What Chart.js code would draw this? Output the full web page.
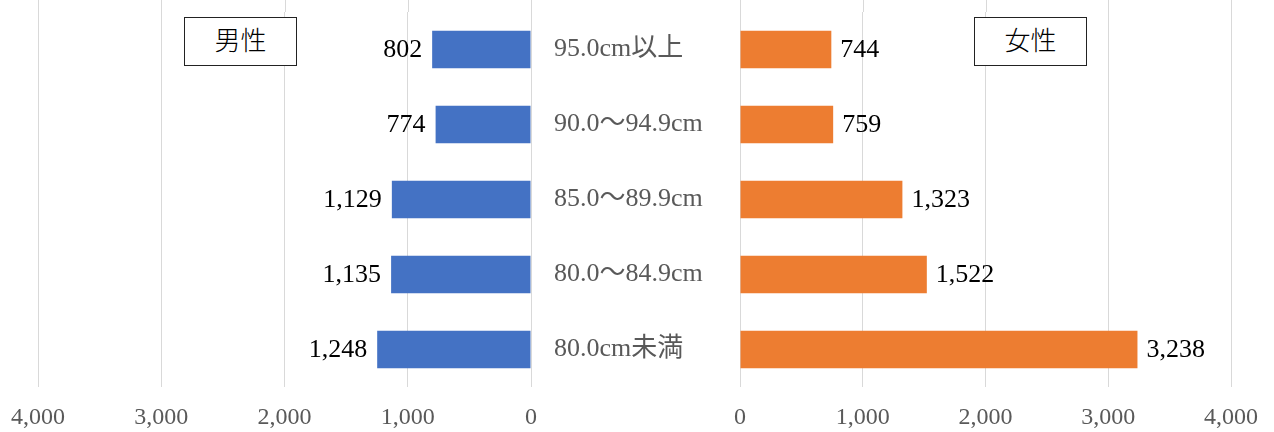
<!DOCTYPE html>
<html>
<head>
<meta charset="utf-8">
<script src="https://cdn.jsdelivr.net/npm/chart.js@4/dist/chart.umd.min.js"></script>
<style>
  body { margin: 0; background: #fff; }
  #wrap { position: relative; width: 1274px; height: 432px; overflow: hidden; }
  canvas { position: absolute; top: 0; }
  .label {
    position: absolute; top: 17px; width: 111px; height: 47px;
    border: 1.5px solid #222; background: #fff;
    font: 300 26px "Liberation Serif", "Noto Sans CJK JP", serif;
    line-height: 47px; text-align: center; color: #000; z-index: 2;
  }
</style>
</head>
<body>
<div id="wrap">
  <canvas id="maleChart" width="560" height="432" style="left:0"></canvas>
  <canvas id="femaleChart" width="720" height="432" style="left:554px"></canvas>
  <div class="label" style="left:184px">男性</div>
  <div class="label" style="left:974px">女性</div>
</div>
<script>
// 腹囲の区分
const categories = ['95.0cm以上', '90.0～94.9cm', '85.0～89.9cm', '80.0～84.9cm', '80.0cm未満']
const maleValues = [802, 774, 1129, 1135, 1248]
const femaleValues = [744, 759, 1323, 1522, 3238]
const axisMin = 0
const axisMax = 4000
const axisStep = 1000

const serif = '"Liberation Serif", "Noto Sans CJK JP", serif'
const gridColor = '#d9d9d9'
const fmt = v => v.toLocaleString('en-US')

// バーの端に数値を描く
const valueLabels = {
  id: 'valueLabels',
  afterDatasetsDraw(chart, args, opts) {
    const ctx = chart.ctx
    const meta = chart.getDatasetMeta(0)
    const data = chart.data.datasets[0].data
    ctx.save()
    ctx.font = '26px ' + serif
    ctx.fillStyle = '#000'
    ctx.textBaseline = 'middle'
    meta.data.forEach((bar, i) => {
      if (opts.side === 'left') {
        ctx.textAlign = 'right'
        ctx.fillText(fmt(data[i]), bar.x - 10, bar.y + 1)
      } else {
        ctx.textAlign = 'left'
        ctx.fillText(fmt(data[i]), bar.x + 9, bar.y + 1)
      }
    })
    ctx.restore()
  }
}

// グリッド線を上端まで伸ばす
const gridToTop = {
  id: 'gridToTop',
  beforeDatasetsDraw(chart) {
    const ctx = chart.ctx
    const sc = chart.scales.x
    ctx.save()
    ctx.strokeStyle = gridColor
    ctx.lineWidth = 1
    sc.ticks.forEach(t => {
      const x = Math.round(sc.getPixelForValue(t.value)) + 0.5
      ctx.beginPath()
      ctx.moveTo(x, 0)
      ctx.lineTo(x, chart.chartArea.top)
      ctx.stroke()
    })
    ctx.restore()
  }
}

function xAxis(reverse) {
  return {
    reverse: reverse,
    min: axisMin,
    max: axisMax,
    border: { display: false },
    grid: { color: gridColor, drawTicks: false },
    ticks: {
      stepSize: axisStep,
      padding: 16,
      maxRotation: 0,
      color: '#595959',
      font: { family: serif, size: 24 },
      callback: v => fmt(v)
    },
    afterFit(scale) {
      scale.height = 45
      scale.paddingLeft = 0
      scale.paddingRight = 0
    }
  }
}

new Chart(document.getElementById('maleChart'), {
  type: 'bar',
  data: {
    labels: categories,
    datasets: [{
      label: '男性',
      data: maleValues,
      backgroundColor: '#4472C4',
      barPercentage: 0.5,
      categoryPercentage: 1
    }]
  },
  options: {
    indexAxis: 'y',
    responsive: false,
    animation: false,
    layout: { padding: { left: 38, right: 29, top: 12, bottom: 0 } },
    scales: {
      x: xAxis(true),
      y: { display: false }
    },
    plugins: {
      legend: { display: false },
      tooltip: { enabled: false },
      valueLabels: { side: 'left' }
    }
  },
  plugins: [valueLabels, gridToTop]
})

new Chart(document.getElementById('femaleChart'), {
  type: 'bar',
  data: {
    labels: categories,
    datasets: [{
      label: '女性',
      data: femaleValues,
      backgroundColor: '#ED7D31',
      barPercentage: 0.5,
      categoryPercentage: 1
    }]
  },
  options: {
    indexAxis: 'y',
    responsive: false,
    animation: false,
    layout: { padding: { left: 0, right: 43, top: 12, bottom: 0 } },
    scales: {
      x: xAxis(false),
      y: {
        border: { display: false },
        grid: { display: false },
        ticks: {
          crossAlign: 'far',
          color: '#595959',
          font: { family: serif, size: 26 }
        },
        afterFit(scale) {
          scale.width = 186
          scale.paddingTop = 0
          scale.paddingBottom = 0
        }
      }
    },
    plugins: {
      legend: { display: false },
      tooltip: { enabled: false },
      valueLabels: { side: 'right' }
    }
  },
  plugins: [valueLabels, gridToTop]
})
</script>
</body>
</html>
